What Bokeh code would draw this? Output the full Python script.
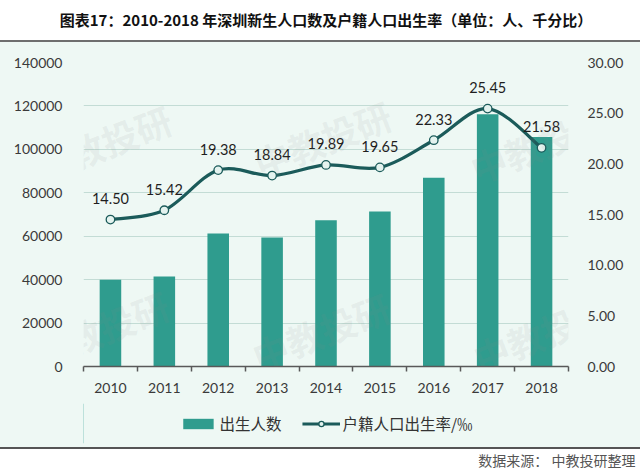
import numpy as np
from bokeh.plotting import figure
from bokeh.models import (Range1d, LinearAxis, FixedTicker, NumeralTickFormatter,
                          CustomJSTickFormatter, Legend, LegendItem, Label, Title)
from bokeh.layouts import column
from bokeh.embed import file_html
from bokeh.resources import INLINE
from bokeh.core.properties import value

# ---------------- data ----------------
years = ["2010", "2011", "2012", "2013", "2014", "2015", "2016", "2017", "2018"]
births = [40000, 41500, 61200, 59400, 67400, 71400, 86900, 116200, 105700]
birth_rate = [14.50, 15.42, 19.38, 18.84, 19.89, 19.65, 22.33, 25.45, 21.58]
left_ticks = [0, 20000, 40000, 60000, 80000, 100000, 120000, 140000]
right_ticks = [0, 5, 10, 15, 20, 25, 30]
series_names = ["出生人数", "户籍人口出生率/‰"]
title_text = "图表17：2010-2018 年深圳新生人口数及户籍人口出生率（单位：人、千分比）"
source_text = "数据来源： 中教投研整理"
watermark_text = "中教投研"

# ---------------- styles ----------------
BAR = "#2F9C8E"
LINE = "#1B5B5A"
DOT_FILL = "#E4F3EF"
BG = "#EEF8F4"
GRID = "#C3DCD5"
AXIS = "#595959"
TXT = "#3A3A3A"
NUM_FONT = "Lato"
CJK = "Noto Sans CJK SC"
W = 640
H_TITLE = 30
H_MAIN = 373
H_LEG = 73
BL, BR = 83, 72

n = len(years)
xpos = np.arange(n) + 0.5
rate = np.array(birth_rate, dtype=float)

main_bg = ("linear-gradient(to bottom, #ffffff 0px, #ffffff 10px, #6E6E6E 10px, "
           "#6E6E6E 12px, %s 12px, %s 100%%)" % (BG, BG))
leg_bg = ("linear-gradient(to bottom, %s 0px, %s 44px, #555555 44px, #555555 46px, "
          "#ffffff 46px, #ffffff 100%%)" % (BG, BG))

# ---------------- title strip ----------------
t = figure(width=W, height=H_TITLE, x_range=Range1d(0, 1), y_range=Range1d(0, 1),
           x_axis_type=None, y_axis_type=None, toolbar_location=None,
           output_backend="svg", min_border_left=BL, min_border_right=BR,
           min_border_top=0, min_border_bottom=24, styles={"background": "#ffffff"})
t.background_fill_color = None
t.border_fill_color = None
t.outline_line_color = None
t.grid.visible = False
t.add_layout(Title(text=title_text, align="center", offset=-5, standoff=0,
                   text_font=CJK, text_font_size="15px", text_font_style="bold",
                   text_color="#111111"), "below")

# ---------------- main chart ----------------
p = figure(width=W, height=H_MAIN, x_range=Range1d(0, n), y_range=Range1d(0, 140000),
           toolbar_location=None, output_backend="svg",
           min_border_left=BL, min_border_right=BR, min_border_top=32, min_border_bottom=37,
           styles={"background": main_bg})
p.extra_y_ranges = {"rate": Range1d(0, 30)}
p.background_fill_color = None
p.border_fill_color = None
p.outline_line_color = None
p.xgrid.grid_line_color = None
p.ygrid.grid_line_color = GRID
p.ygrid.grid_line_width = 1

p.vbar(x=xpos, top=births, width=0.4, fill_color=BAR, line_color=None)

# smooth curve: cubic Bezier segments whose control points come from the data (Catmull-Rom)
xp = np.concatenate([[xpos[0]], xpos, [xpos[-1]]])
yp = np.concatenate([[rate[0]], rate, [rate[-1]]])
x0, y0 = xpos[:-1], rate[:-1]
x1, y1 = xpos[1:], rate[1:]
cx0 = x0 + (xp[2:n + 1] - xp[0:n - 1]) / 6.0
cy0 = y0 + (yp[2:n + 1] - yp[0:n - 1]) / 6.0
cx1 = x1 - (xp[3:n + 2] - xp[1:n]) / 6.0
cy1 = y1 - (yp[3:n + 2] - yp[1:n]) / 6.0
p.bezier(x0=x0, y0=y0, x1=x1, y1=y1, cx0=cx0, cy0=cy0, cx1=cx1, cy1=cy1,
         line_color=LINE, line_width=3.2, y_range_name="rate")
p.scatter(x=xpos, y=rate, marker="circle", size=8.5, fill_color=DOT_FILL,
          line_color=LINE, line_width=1.3, y_range_name="rate")
p.text(x=xpos, y=rate, text=[f"{v:.2f}" for v in birth_rate], y_range_name="rate",
       y_offset=-21, text_align="center", text_baseline="middle",
       text_font=value(NUM_FONT), text_font_size="14.5px", text_color="#1E1E1E")

# faint watermarks
for wx, wy in [(0.35, 103000), (4.43, 105000), (8.45, 102700),
               (0.3, 17400), (4.4, 16500), (8.5, 15600)]:
    p.add_layout(Label(x=wx, y=wy, text=watermark_text, angle=0.37,
                       text_align="center", text_baseline="middle",
                       text_font=CJK, text_font_style="bold", text_font_size="36px",
                       text_color="#8A8A8A", text_alpha=0.10))

# axes
xa = p.xaxis[0]
xa.ticker = FixedTicker(ticks=list(xpos), minor_ticks=list(np.arange(n + 1)))
xa.formatter = CustomJSTickFormatter(args=dict(labels=years),
                                     code="return labels[Math.floor(tick)]")
xa.major_tick_out = 0
xa.major_tick_in = 0
xa.minor_tick_out = 5
xa.minor_tick_in = 0
xa.minor_tick_line_color = AXIS
xa.minor_tick_line_width = 1.5
xa.axis_line_color = AXIS
xa.axis_line_width = 1.5
xa.major_label_standoff = 11
xa.major_label_text_font = NUM_FONT
xa.major_label_text_font_size = "14px"
xa.major_label_text_color = TXT

ya = p.yaxis[0]
ya.ticker = FixedTicker(ticks=left_ticks)
ya.formatter = NumeralTickFormatter(format="0")
ya.axis_line_color = None
ya.major_tick_line_color = None
ya.minor_tick_line_color = None
ya.major_label_standoff = 15
ya.major_label_text_font = NUM_FONT
ya.major_label_text_font_size = "14px"
ya.major_label_text_color = TXT

ra = LinearAxis(y_range_name="rate", ticker=FixedTicker(ticks=right_ticks),
                formatter=NumeralTickFormatter(format="0.00"))
ra.axis_line_color = None
ra.major_tick_line_color = None
ra.minor_tick_line_color = None
ra.major_label_standoff = 13
ra.major_label_text_font = NUM_FONT
ra.major_label_text_font_size = "14px"
ra.major_label_text_color = TXT
p.add_layout(ra, "right")

# ---------------- legend strip (same side borders as the chart) ----------------
lg = figure(width=W, height=H_LEG, x_range=Range1d(0, 1), y_range=Range1d(0, 1),
            x_axis_type=None, y_axis_type=None, toolbar_location=None,
            output_backend="svg", min_border_left=BL, min_border_right=BR,
            min_border_top=0, min_border_bottom=33, styles={"background": leg_bg})
lg.background_fill_color = None
lg.border_fill_color = None
lg.outline_line_color = None
lg.grid.visible = False
# legend proxies (kept outside the visible range, only their styles are shown)
k_bar = lg.vbar(x=[-5], top=[1], width=0.4, fill_color=BAR, line_color=None)
k_line = lg.line(x=[-6, -5], y=[0.5, 0.5], line_color=LINE, line_width=3.2)
k_dot = lg.scatter(x=[-5], y=[0.5], marker="circle", size=8.5, fill_color=DOT_FILL,
                   line_color=LINE, line_width=1.3)
legend = Legend(items=[LegendItem(label=series_names[0], renderers=[k_bar]),
                       LegendItem(label=series_names[1], renderers=[k_line, k_dot])],
                orientation="horizontal", location="center",
                glyph_width=38, glyph_height=13, spacing=20, label_standoff=3,
                padding=0, margin=0, border_line_color=None,
                background_fill_alpha=0, label_text_font=CJK,
                label_text_font_size="15.5px", label_text_color="#333333")
lg.add_layout(legend)
lg.add_layout(Title(text=source_text, align="right", offset=-67, standoff=9,
                    text_font=CJK, text_font_size="14px", text_font_style="normal",
                    text_color="#555555"), "below")

layout = column(t, p, lg, spacing=0)
open("out.html", "w").write(file_html(layout, INLINE))
